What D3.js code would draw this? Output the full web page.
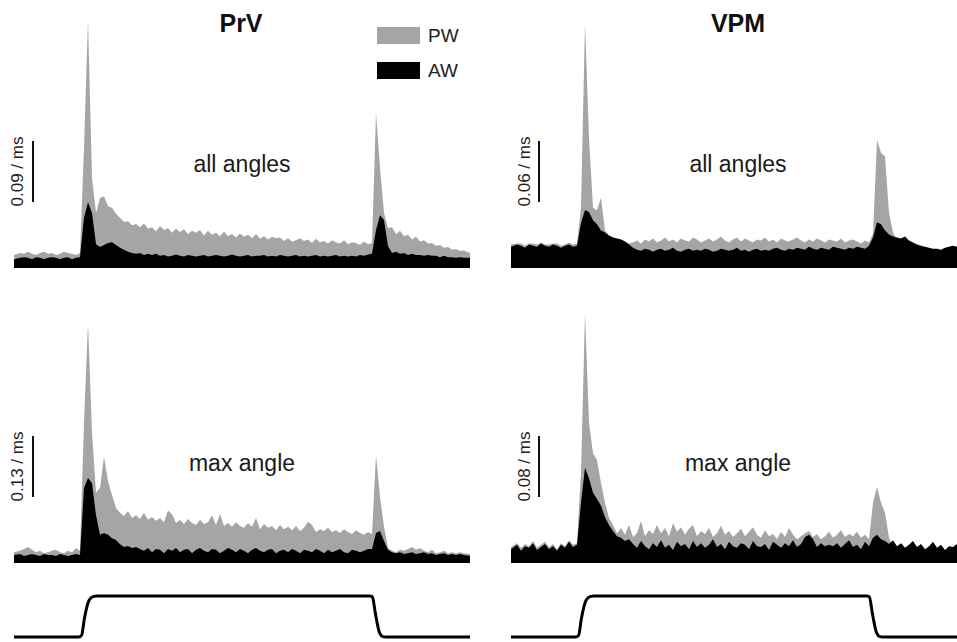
<!DOCTYPE html>
<html>
<head>
<meta charset="utf-8">
<script src="https://cdn.jsdelivr.net/npm/d3@7"></script>
<style>
  html, body { margin: 0; padding: 0; background: #fff; }
  text { font-family: "Liberation Sans", Arial, Helvetica, sans-serif; }
</style>
</head>
<body>
<div id="app"></div>
<script>
// PSTH rates in spikes/s, 114 bins covering each panel
const prvAllPW = [19,22,21,24,21,19,22,24,21,22,19,21,24,22,21,19,22,
  177,366,133,81,103,106,91,89,80,74,68,69,63,
  65,60,66,58,60,54,62,56,59,52,58,53,57,50,55,52,56,48,55,49,52,47,54,47,50,45,51,46,49,44,
  50,43,47,42,46,44,45,40,44,39,41,44,40,42,37,43,38,40,36,41,38,36,41,35,38,37,34,39,35,37,
  229,148,81,59,60,50,55,47,49,42,46,39,41,36,37,33,34,30,31,27,28,25,26,22];
const prvAllAW = [13,15,16,15,13,16,15,13,15,16,15,13,15,16,13,15,16,
  74,97,81,35,31,34,37,38,34,30,27,24,22,21,22,19,21,19,21,
  18,19,17,18,20,18,17,19,18,17,18,19,17,18,19,18,17,18,20,18,17,18,19,17,18,18,19,17,18,17,
  19,18,17,18,19,17,18,17,18,19,17,18,17,18,19,17,18,17,18,17,19,18,20,
  21,56,78,71,32,22,24,21,22,19,21,19,19,18,19,18,18,16,18,16,16,15,16,15,15];

const vpmAllPW = [23,24,24,22,24,24,23,25,23,23,24,24,22,23,25,23,24,
  59,241,128,59,57,69,37,32,30,29,28,26,24,
  25,27,24,28,26,29,25,27,30,26,28,25,29,27,26,30,28,25,27,29,26,28,31,27,25,28,30,26,29,27,
  25,28,27,30,26,28,25,29,27,26,28,30,27,25,28,26,29,27,25,28,27,26,29,25,27,28,26,24,27,25,
  34,126,113,110,54,35,28,27,29,25,23,21,20,19,18,17,17,16,18,19,20,19,18,19];
const vpmAllAW = [21,23,22,20,23,22,21,24,22,21,23,22,20,22,23,21,22,
  44,57,55,47,43,37,35,32,30,29,28,26,23,
  20,18,17,19,18,16,18,19,17,18,20,17,16,18,19,17,18,17,19,18,16,17,19,18,17,18,20,17,18,16,
  18,19,17,18,17,19,20,18,17,19,18,20,19,18,21,19,18,20,19,18,21,20,19,18,20,19,21,20,19,22,
  30,45,43,37,33,31,30,29,31,27,25,23,22,21,20,19,19,18,20,21,22,21,20,21];

const prvMaxPW = [23,26,30,34,28,23,26,21,23,26,28,23,21,26,23,32,26,
  298,511,277,150,160,226,175,145,117,107,100,111,96,
  102,94,107,92,98,90,96,87,112,104,85,92,83,94,85,81,92,83,87,102,81,104,79,85,77,87,79,75,85,77,
  96,72,83,75,79,70,81,72,77,70,79,68,75,88,81,66,72,68,75,66,70,64,72,66,62,70,64,60,66,62,
  230,141,77,32,26,23,28,26,30,34,28,32,26,23,28,21,23,26,21,23,21,23,21,19];
const prvMaxAW = [17,19,15,17,19,17,15,19,17,17,15,19,17,15,17,19,17,
  160,181,170,102,60,64,60,53,49,40,34,36,32,34,30,
  26,32,23,30,28,21,30,26,32,23,28,30,21,28,32,26,23,30,28,21,26,32,28,23,30,26,21,28,32,26,
  23,28,30,21,26,28,23,30,26,21,28,26,23,30,26,21,28,23,26,30,23,21,28,26,23,26,30,
  30,64,68,47,28,23,21,23,19,21,23,19,21,23,19,21,17,19,21,17,19,17,19,17,15];

const vpmMaxPW = [21,26,20,25,22,29,20,24,28,21,25,18,26,22,30,24,26,
  118,328,184,144,135,105,79,59,50,39,46,37,50,
  34,39,55,35,43,38,50,39,46,35,52,41,47,37,45,50,35,42,38,46,34,39,49,37,42,34,39,45,35,41,
  47,37,33,43,35,38,31,41,34,46,37,31,35,39,42,34,38,31,35,41,33,37,43,34,38,35,41,33,37,31,
  79,100,79,66,33,
  22,20,24,17,21,26,18,22,16,20,25,17,21,14,20,18,22,17,21];
const vpmMaxAW = [18,24,16,22,20,26,17,21,25,18,22,16,24,20,28,21,24,
  79,125,111,92,84,75,60,50,42,35,33,29,31,
  25,20,29,22,18,26,21,30,20,24,17,28,22,25,18,29,21,26,20,24,31,21,25,18,28,22,20,26,24,18,
  29,22,21,25,17,28,24,20,26,22,30,21,25,34,37,31,21,26,22,24,22,26,20,25,30,21,24,18,28,22,
  33,37,31,29,25,30,22,26,20,24,29,21,25,18,22,28,20,24,17,22,21,25,20,24];

// scale bar values (spikes / ms), order: PrV all, VPM all, PrV max, VPM max
const scaleBarRates = [0.09, 0.06, 0.13, 0.08];
const nucleusTitles = ["PrV", "VPM"];
const angleLabels = ["all angles", "max angle"];
const legendLabels = ["PW", "AW"];

// stimulus (whisker deflection) trace, time in bins, level 0..1
const stimTime  = [0, 16.2, 16.9, 17.6, 18.8, 19.9, 20.6, 88.9, 89.6, 90.3, 91.4, 92.2, 92.9, 114];
const stimLevel = [0, 0, 0.04, 0.45, 0.9, 0.99, 1, 1, 0.98, 0.6, 0.1, 0.01, 0, 0];

const nBins = 114;

function drawPlot(targetDiv) {
  const width = 957, height = 642;
  const svg = d3.select(targetDiv).append("svg")
    .attr("width", width)
    .attr("height", height)
    .attr("viewBox", [0, 0, width, height])
    .style("background", "#fff");

  const grey = "#a5a5a5";
  const colLeft = [14, 511];
  const panelWidth = 456;
  const rowBase = [268, 563];
  const barPx = 61;

  const xScales = colLeft.map(x0 =>
    d3.scaleLinear().domain([0, nBins]).range([x0, x0 + panelWidth]));

  const panels = [
    {col: 0, row: 0, pw: prvAllPW, aw: prvAllAW, bar: scaleBarRates[0]},
    {col: 1, row: 0, pw: vpmAllPW, aw: vpmAllAW, bar: scaleBarRates[1]},
    {col: 0, row: 1, pw: prvMaxPW, aw: prvMaxAW, bar: scaleBarRates[2]},
    {col: 1, row: 1, pw: vpmMaxPW, aw: vpmMaxAW, bar: scaleBarRates[3]}
  ];

  const barX = [33, 539];
  const barLabelX = [23, 530];
  const labelX = [242, 738];
  const labelY = [172, 471];

  panels.forEach(p => {
    const x = xScales[p.col];
    const base = rowBase[p.row];
    const y = d3.scaleLinear().domain([0, p.bar * 1000]).range([base, base - barPx]);
    const n = p.pw.length;
    const xi = i => x(i === 0 ? 0 : (i === n - 1 ? nBins : i + 0.5));
    const area = d3.area()
      .x((d, i) => xi(i))
      .y0(y(0))
      .y1(d => y(d));

    svg.append("path").datum(p.pw).attr("d", area).attr("fill", grey);
    svg.append("path").datum(p.aw).attr("d", area).attr("fill", "#000");

    // scale bar
    const bTop = base - 66 - (y(0) - y(p.bar * 1000));
    svg.append("line")
      .attr("x1", barX[p.col]).attr("x2", barX[p.col])
      .attr("y1", base - 66).attr("y2", bTop)
      .attr("stroke", "#111").attr("stroke-width", 2);
    const my = (base - 66 + bTop) / 2;
    svg.append("text")
      .attr("transform", `translate(${barLabelX[p.col]},${my}) rotate(-90)`)
      .attr("text-anchor", "middle")
      .attr("font-size", 17)
      .attr("fill", "#222")
      .text(`${p.bar.toFixed(2)} / ms`);

    svg.append("text")
      .attr("x", labelX[p.col]).attr("y", labelY[p.row])
      .attr("text-anchor", "middle")
      .attr("font-size", 23)
      .attr("fill", "#1a1a1a")
      .text(angleLabels[p.row]);
  });

  // column titles
  svg.selectAll("text.title")
    .data(nucleusTitles)
    .join("text")
    .attr("class", "title")
    .attr("x", (d, i) => [241, 738][i])
    .attr("y", 32)
    .attr("text-anchor", "middle")
    .attr("font-size", 25)
    .attr("font-weight", "bold")
    .attr("fill", "#111")
    .text(d => d);

  // legend
  const legend = svg.append("g").attr("transform", "translate(377,27)");
  legendLabels.forEach((lab, i) => {
    legend.append("rect")
      .attr("x", 0).attr("y", i * 35)
      .attr("width", 43).attr("height", 17)
      .attr("fill", i === 0 ? grey : "#000");
    legend.append("text")
      .attr("x", 51).attr("y", i * 35 + 15)
      .attr("font-size", 19)
      .attr("fill", "#222")
      .text(lab);
  });

  // stimulus traces
  const yStim = d3.scaleLinear().domain([0, 1]).range([637, 596]);
  const stim = d3.zip(stimTime, stimLevel);
  xScales.forEach(x => {
    const line = d3.line()
      .x(d => x(d[0]))
      .y(d => yStim(d[1]))
      .curve(d3.curveMonotoneX);
    svg.append("path").datum(stim)
      .attr("d", line)
      .attr("fill", "none")
      .attr("stroke", "#000")
      .attr("stroke-width", 3)
      .attr("stroke-linejoin", "round");
  });
}

function main() {
  drawPlot("#app");
}

document.addEventListener("DOMContentLoaded", main);
</script>
</body>
</html>
